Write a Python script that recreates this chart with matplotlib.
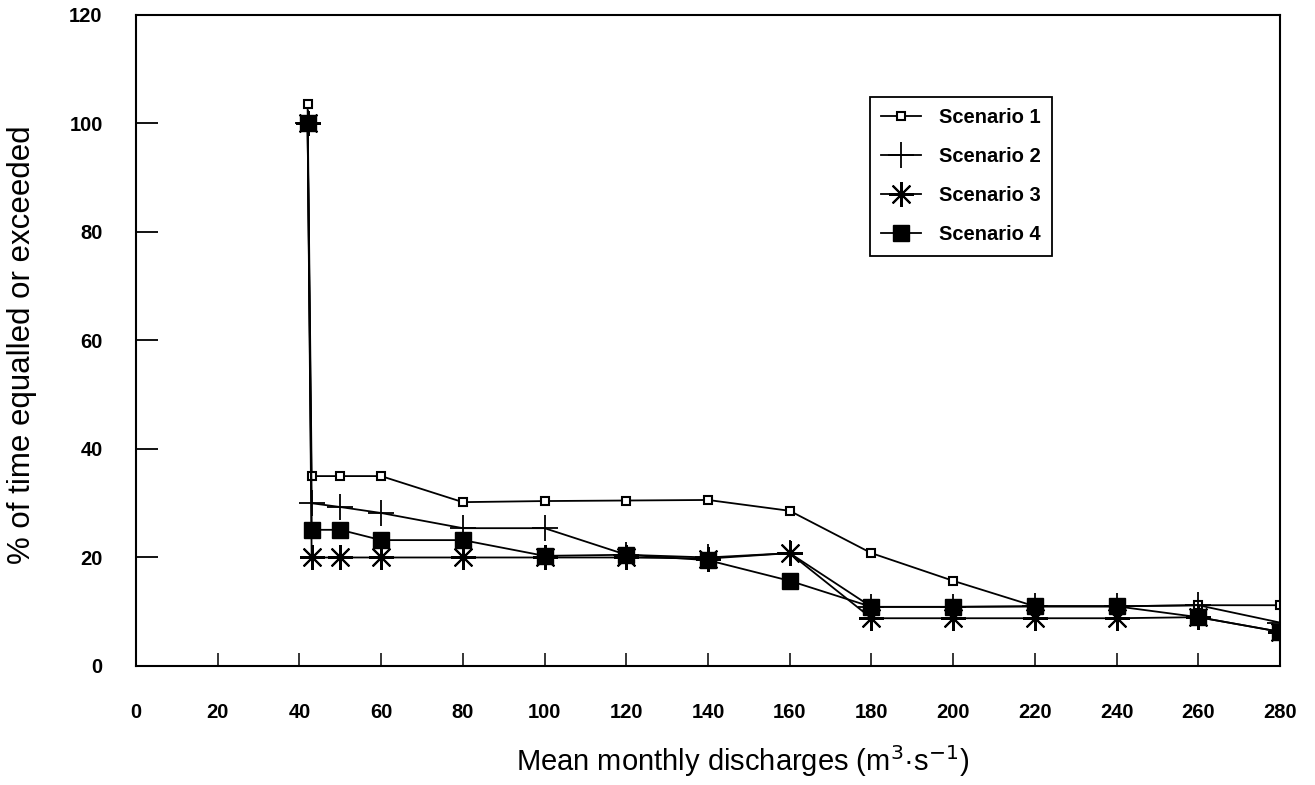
import matplotlib
matplotlib.use("Agg")
import matplotlib.pyplot as plt

plt.rcParams['font.family'] = ['Liberation Sans', 'DejaVu Sans']

# Mean monthly discharge (m3/s) and % of time equalled or exceeded
discharge = [42, 43, 50, 60, 80, 100, 120, 140, 160, 180, 200, 220, 240, 260, 280]
scenario1 = [103.5, 35, 35, 35, 30.2, 30.4, 30.5, 30.6, 28.6, 20.8, 15.7, 11, 11, 11.2, 11.2]
scenario2 = [100, 30, 29.3, 28.2, 25.4, 25.4, 20.5, 20, 20.8, 10.9, 10.9, 11, 11, 11.2, 8]
scenario3 = [100, 20, 20, 20, 20, 20, 20, 19.8, 20.8, 8.8, 8.8, 8.8, 8.8, 9, 6.3]
scenario4 = [100, 25.1, 25.1, 23.2, 23.2, 20.3, 20.5, 19.5, 15.7, 10.9, 10.9, 11, 11, 9, 6.3]

x_ticks = list(range(0, 281, 20))
y_ticks = list(range(0, 121, 20))

fig = plt.figure(figsize=(13.15, 7.85), dpi=100)
ax = fig.add_axes([0.1034, 0.1516, 0.8700, 0.8294])

lw = 1.3
ax.plot(discharge, scenario1, color='black', lw=lw, marker='s', markersize=6,
        markerfacecolor='white', markeredgecolor='black', markeredgewidth=1.5,
        label='Scenario 1')
ax.plot(discharge, scenario2, color='black', lw=lw, marker='+', markersize=19,
        markeredgewidth=1.3, label='Scenario 2')
ax.plot(discharge, scenario3, color='black', lw=lw, marker=(8, 2, 0), markersize=18,
        markeredgewidth=1.5, label='Scenario 3')
ax.plot(discharge, scenario4, color='black', lw=lw, marker='s', markersize=11,
        markerfacecolor='black', markeredgecolor='black', label='Scenario 4')

ax.set_xlim(0, 280)
ax.set_ylim(0, 120)
ax.set_xticks(x_ticks)
ax.set_yticks(y_ticks)
ax.tick_params(axis='y', direction='in', length=16, width=1.3, pad=24,
               labelsize=14.5)
ax.tick_params(axis='x', direction='in', length=9.5, width=1.1, pad=27,
               labelsize=14.5)
for lab in ax.get_xticklabels() + ax.get_yticklabels():
    lab.set_fontweight('bold')

for sp in ax.spines.values():
    sp.set_linewidth(1.5)
    sp.set_color('black')

ax.set_xlabel('Mean monthly discharges (m$^3$·s$^{-1}$)', fontsize=21)
ax.set_ylabel('% of time equalled or exceeded', fontsize=22.5)
ax.xaxis.set_label_coords(0.53, -0.118)
ax.yaxis.set_label_coords(-0.0865, 0.493)

leg = ax.legend(loc='upper left', bbox_to_anchor=(0.6416, 0.874), fancybox=False,
                edgecolor='black', framealpha=1, handlelength=2.0,
                labelspacing=1.0, borderpad=0.55, handletextpad=0.9,
                borderaxespad=0, prop={'weight': 'bold', 'size': 14.5})
leg.get_frame().set_linewidth(1.3)

fig.savefig('out.png', dpi=100)
